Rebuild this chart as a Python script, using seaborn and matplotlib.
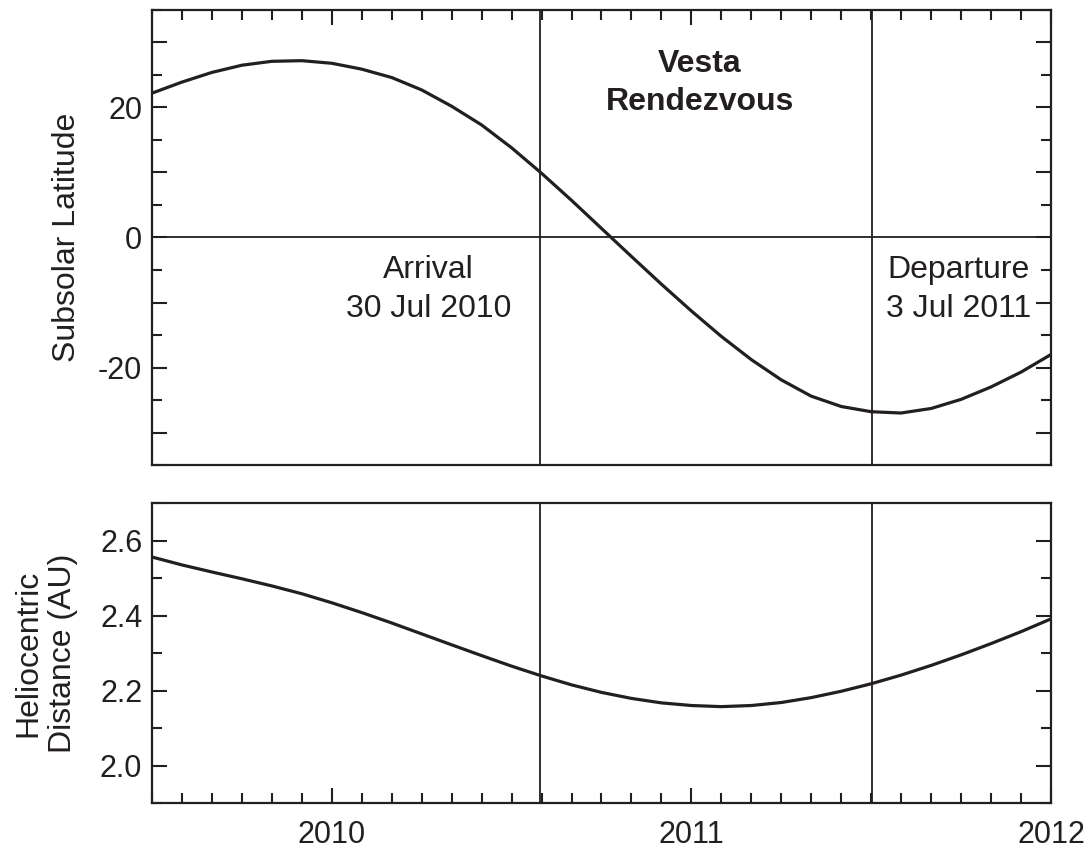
import matplotlib
matplotlib.use("Agg")
import matplotlib.pyplot as plt
from matplotlib.ticker import MultipleLocator, FuncFormatter
import pandas as pd
import seaborn as sns

# monthly samples, decimal years (mid 2009 -> 2012)
years = [2009.500, 2009.583, 2009.667, 2009.750, 2009.833, 2009.917,
         2010.000, 2010.083, 2010.167, 2010.250, 2010.333, 2010.417,
         2010.500, 2010.583, 2010.667, 2010.750, 2010.833, 2010.917,
         2011.000, 2011.083, 2011.167, 2011.250, 2011.333, 2011.417,
         2011.500, 2011.583, 2011.667, 2011.750, 2011.833, 2011.917,
         2012.000]

# subsolar latitude (deg)
subsolar_lat = [22.2, 23.9, 25.4, 26.5, 27.1, 27.2,
                26.8, 25.9, 24.6, 22.7, 20.2, 17.3,
                13.8, 9.9, 5.7, 1.4, -2.9, -7.2,
                -11.3, -15.2, -18.8, -21.9, -24.4, -26.0,
                -26.8, -27.0, -26.3, -24.9, -23.0, -20.7,
                -18.0]

# heliocentric distance (AU)
helio_dist = [2.556, 2.535, 2.516, 2.498, 2.479, 2.458,
              2.434, 2.408, 2.380, 2.351, 2.322, 2.293,
              2.265, 2.239, 2.215, 2.195, 2.179, 2.167,
              2.160, 2.157, 2.160, 2.168, 2.181, 2.198,
              2.218, 2.241, 2.267, 2.295, 2.325, 2.357,
              2.391]

arrival = 2010.578    # 30 Jul 2010
departure = 2011.503  # 3 Jul 2011

df = pd.DataFrame({"year": years, "lat": subsolar_lat, "dist": helio_dist})

sns.set_style("white")
plt.rcParams["font.family"] = ["Liberation Sans", "DejaVu Sans"]
plt.rcParams["axes.unicode_minus"] = False

ink = "#231f20"
fs = 22     # tick labels
fs_txt = 23  # annotations / axis labels

fig = plt.figure(figsize=(10.91, 8.52), dpi=100)
ax1 = fig.add_axes([0.1393, 0.4542, 0.8240, 0.5341])
ax2 = fig.add_axes([0.1393, 0.0575, 0.8240, 0.3521])

sns.lineplot(data=df, x="year", y="lat", ax=ax1, color=ink, lw=2.3,
             solid_joinstyle="round")
sns.lineplot(data=df, x="year", y="dist", ax=ax2, color=ink, lw=2.3,
             solid_joinstyle="round")

for ax in (ax1, ax2):
    ax.axvline(arrival, color=ink, lw=1.3, zorder=1)
    ax.axvline(departure, color=ink, lw=1.3, zorder=1)
    ax.set_xlim(2009.5, 2012.0)
    ax.xaxis.set_major_locator(MultipleLocator(1))
    ax.xaxis.set_minor_locator(MultipleLocator(1 / 12))
    ax.xaxis.set_major_formatter(FuncFormatter(lambda v, p: f"{int(round(v))}"))
    ax.set_xlabel("")
    ax.set_ylabel("")
    for s in ax.spines.values():
        s.set_linewidth(1.6)
        s.set_color(ink)
    ax.tick_params(which="both", direction="in", width=1.5, color=ink,
                   labelsize=fs, labelcolor=ink, left=True, right=True)
    ax.tick_params(which="major", length=11)
    ax.tick_params(which="minor", length=7)
    ax.tick_params(axis="y", pad=7)
    ax.tick_params(axis="x", pad=12)

# top panel
ax1.axhline(0, color=ink, lw=1.3, zorder=1)
ax1.set_ylim(-35, 35)
ax1.yaxis.set_major_locator(MultipleLocator(10))
ax1.yaxis.set_minor_locator(MultipleLocator(5))
ax1.yaxis.set_major_formatter(
    FuncFormatter(lambda v, p: f"{int(round(v))}" if round(v) % 20 == 0 else ""))
ax1.tick_params(which="both", top=True, bottom=False, labelbottom=False)

ax1.text(2010.269, -6.2, "Arrival", ha="center", va="baseline", fontsize=fs_txt, color=ink)
ax1.text(2010.269, -12.2, "30 Jul 2010", ha="center", va="baseline", fontsize=fs_txt, color=ink)
ax1.text(2011.742, -6.2, "Departure", ha="center", va="baseline", fontsize=fs_txt, color=ink)
ax1.text(2011.742, -12.2, "3 Jul 2011", ha="center", va="baseline", fontsize=fs_txt, color=ink)
ax1.text(2011.024, 25.5, "Vesta", ha="center", va="baseline", fontsize=fs_txt,
         fontweight="bold", color=ink)
ax1.text(2011.024, 19.6, "Rendezvous", ha="center", va="baseline", fontsize=fs_txt,
         fontweight="bold", color=ink)

ax1.text(-0.094, 0.5, "Subsolar Latitude", transform=ax1.transAxes, rotation=90,
         ha="center", va="center", fontsize=fs_txt, color=ink)

# bottom panel
ax2.set_ylim(1.9, 2.7)
ax2.yaxis.set_major_locator(MultipleLocator(0.2))
ax2.yaxis.set_minor_locator(MultipleLocator(0.1))
ax2.yaxis.set_major_formatter(FuncFormatter(lambda v, p: f"{v:.1f}"))
ax2.tick_params(which="both", top=False, bottom=True)

ax2.text(-0.118, 0.5, "Heliocentric\nDistance (AU)", transform=ax2.transAxes,
         rotation=90, ha="center", va="center", fontsize=fs_txt, color=ink,
         linespacing=1.2)

fig.savefig("out.png", dpi=100)
